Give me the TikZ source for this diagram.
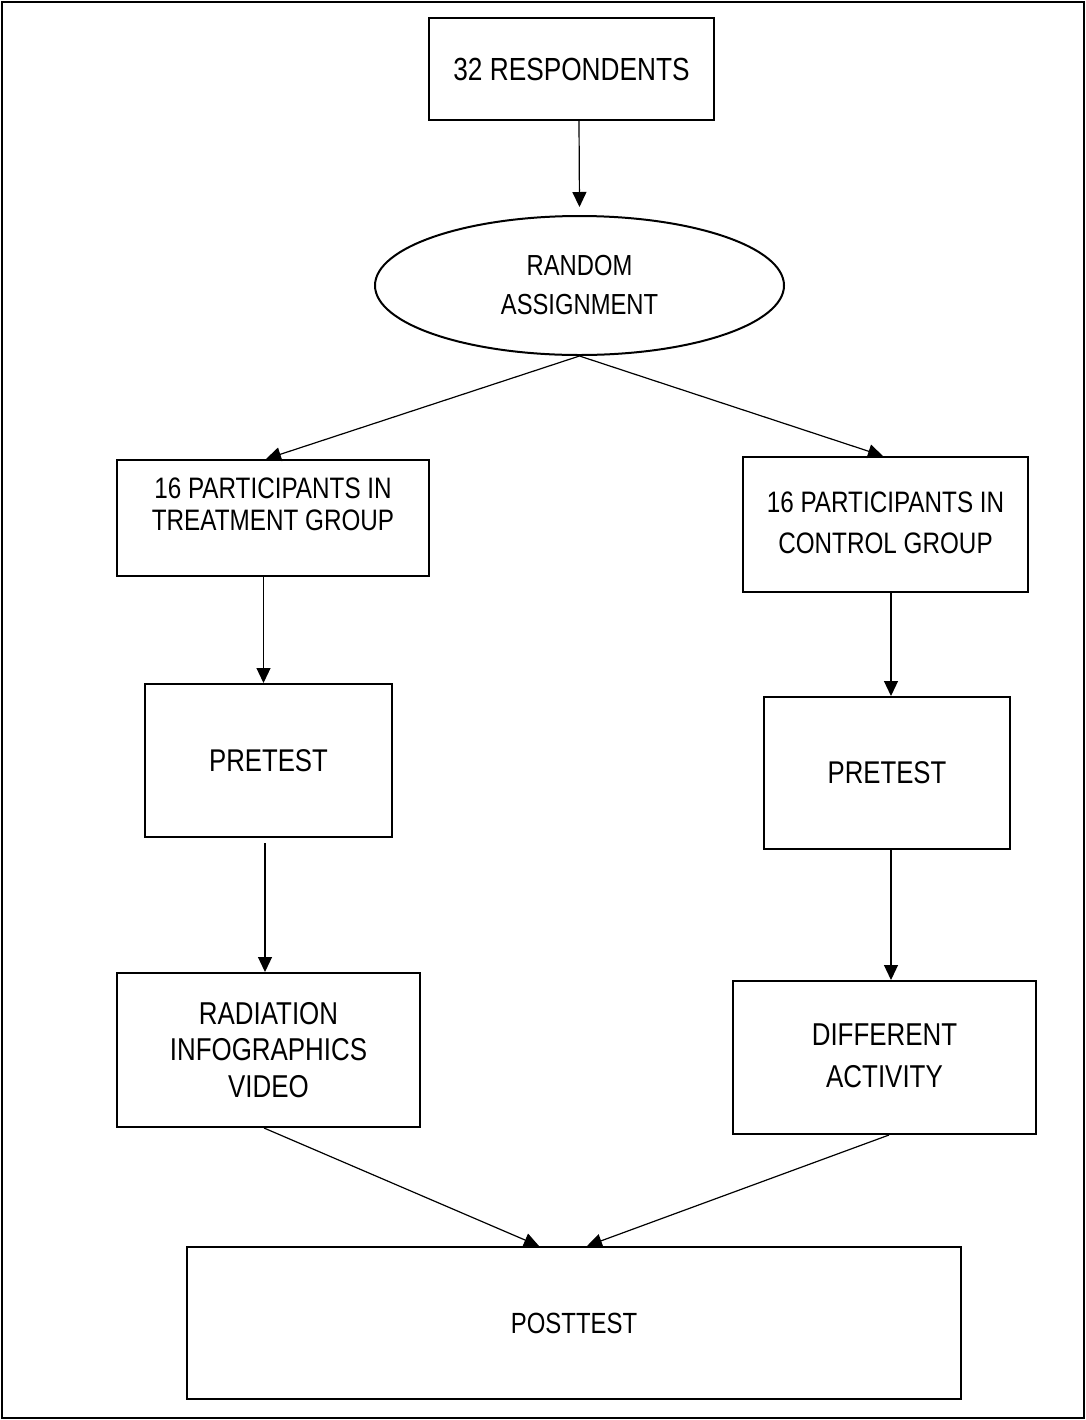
\documentclass[tikz,border=0pt]{standalone}
\usepackage{fontspec}
\setmainfont{Liberation Sans}[FakeStretch=0.82]
\usetikzlibrary{arrows.meta,shapes.geometric}
\begin{document}
\begin{tikzpicture}[x=0.5pt,y=-0.5pt,
  box/.style={draw, line width=1pt, inner sep=0pt},
  txt/.style={align=center, inner sep=0pt},
  conn/.style={line width=0.6pt, -{Triangle[length=7.5pt,width=7pt]}}]
\useasboundingbox (0,0) rectangle (1086,1420);
\draw[line width=1.4pt] (2,2) rectangle (1084,1418);

\node[box, minimum width=142.5pt, minimum height=51pt, font=\fontsize{16}{19}\selectfont] (resp) at (571.5,69) {32 RESPONDENTS};

\node[box, ellipse, minimum width=204.5pt, minimum height=69.5pt, align=center, font=\fontsize{14.5}{19.5}\selectfont] (rand) at (579.5,285.5) {RANDOM\\ASSIGNMENT};

\node[box, minimum width=156pt, minimum height=58pt] (lpart) at (273,518) {};
\node[txt, font=\fontsize{14.8}{16}\selectfont] (lparttxt) at (273,504) {16 PARTICIPANTS IN\\TREATMENT GROUP};

\node[box, minimum width=142.5pt, minimum height=67.5pt] (rpart) at (885.5,524.5) {};
\node[txt, font=\fontsize{14.8}{20.5}\selectfont] (rparttxt) at (885.5,522.5) {16 PARTICIPANTS IN\\CONTROL GROUP};

\node[box, minimum width=123.5pt, minimum height=76.5pt, font=\fontsize{15.7}{18}\selectfont] (lpre) at (268.5,760.5) {PRETEST};
\node[box, minimum width=123pt, minimum height=76pt, font=\fontsize{15.7}{18}\selectfont] (rpre) at (887,773) {PRETEST};

\node[box, minimum width=151.5pt, minimum height=77pt, align=center, font=\fontsize{15.8}{18.25}\selectfont] (rad) at (268.5,1050) {RADIATION\\INFOGRAPHICS\\VIDEO};

\node[box, minimum width=151.5pt, minimum height=76.5pt] (diff) at (884.5,1057.5) {};
\node[txt, font=\fontsize{15.8}{21}\selectfont] (difftxt) at (884.5,1056) {DIFFERENT\\ACTIVITY};

\node[box, minimum width=387pt, minimum height=76pt, font=\fontsize{14.6}{18}\selectfont] (post) at (574,1323) {POSTTEST};

\draw[conn] ([xshift=3.75pt]resp.south) -- ([yshift=4pt]rand.north);
\draw[conn] (rand.south) -- ([xshift=-3.5pt]lpart.north);
\draw[conn] (rand.south) -- ([xshift=-1.25pt]rpart.north);
\draw[conn] ([xshift=-4.75pt]lpart.south) -- ([xshift=-2.5pt]lpre.north);
\draw[conn] ([xshift=-1.75pt,yshift=-2.5pt]lpre.south) -- ([xshift=-1.75pt]rad.north);
\draw[conn] ([xshift=2.75pt]rpart.south) -- ([xshift=2pt]rpre.north);
\draw[conn] ([xshift=2pt]rpre.south) -- ([xshift=3.25pt]diff.north);
\draw[conn] ([xshift=-2.25pt]rad.south) -- ([xshift=-17.5pt]post.north);
\draw[conn] ([xshift=2.25pt]diff.south) -- ([xshift=6.5pt]post.north);
\end{tikzpicture}
\end{document}
